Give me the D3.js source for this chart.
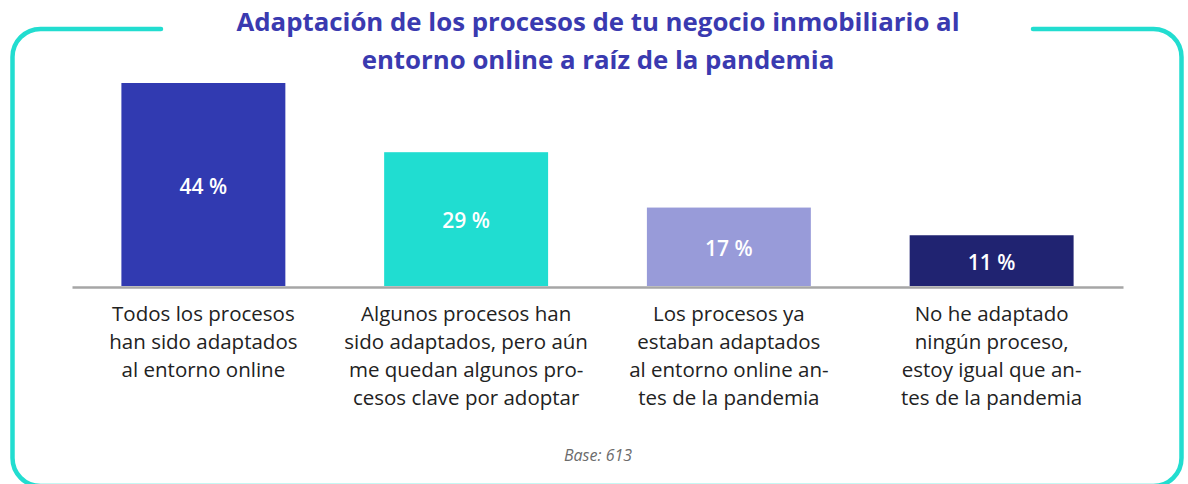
<!DOCTYPE html>
<html>
<head>
<meta charset="utf-8">
<script src="https://cdn.jsdelivr.net/npm/d3@7"></script>
<style>
  body { margin: 0; background: #fff; }
  svg { display: block; }
</style>
</head>
<body>
<script>
var titleLines = [
  'Adaptación de los procesos de tu negocio inmobiliario al',
  'entorno online a raíz de la pandemia'
];
var categories = ['todos', 'algunos', 'yaEstaban', 'ninguno'];
var values = [44, 29, 17, 11];
var labelLines = [
  ['Todos los procesos', 'han sido adaptados', 'al entorno online'],
  ['Algunos procesos han', 'sido adaptados, pero aún', 'me quedan algunos pro-', 'cesos clave por adoptar'],
  ['Los procesos ya', 'estaban adaptados', 'al entorno online an-', 'tes de la pandemia'],
  ['No he adaptado', 'ningún proceso,', 'estoy igual que an-', 'tes de la pandemia']
];
var colors = ['#313ab1', '#20ddd1', '#989bd9', '#202371'];
var baseNote = 'Base: 613';

var width = 1188;
var height = 484;

var svg = d3.select('body').append('svg')
  .attr('width', width)
  .attr('height', height);

// teal frame, open at the top where the title sits
var frame = d3.path();
var fl = 12.5, ft = 29, fr = 1181.5, fb = 486, rad = 28;
frame.moveTo(161, ft);
frame.lineTo(fl + rad, ft);
frame.arcTo(fl, ft, fl, ft + rad, rad);
frame.lineTo(fl, fb - rad);
frame.arcTo(fl, fb, fl + rad, fb, rad);
frame.lineTo(fr - rad, fb);
frame.arcTo(fr, fb, fr, fb - rad, rad);
frame.lineTo(fr, ft + rad);
frame.arcTo(fr, ft, fr - rad, ft, rad);
frame.lineTo(1033, ft);

svg.append('path')
  .attr('d', frame.toString())
  .attr('fill', 'none')
  .attr('stroke', '#22ddd0')
  .attr('stroke-width', 4.5)
  .attr('stroke-linecap', 'round');

svg.append('g')
  .selectAll('text')
  .data(titleLines)
  .enter().append('text')
    .attr('x', 598)
    .attr('y', function(d, i) { return 31 + i * 38; })
    .attr('text-anchor', 'middle')
    .attr('font-family', 'Open Sans, sans-serif')
    .attr('font-weight', 700)
    .attr('font-size', 25.8)
    .attr('fill', '#3a3ab0')
    .text(function(d) { return d; });

var x = d3.scaleBand()
  .domain(categories)
  .range([72, 1123])
  .paddingInner(0.376)
  .paddingOuter(0.188);

var y = d3.scaleLinear()
  .domain([0, 44])
  .range([286, 83]);

var bars = svg.append('g')
  .selectAll('g')
  .data(values)
  .enter().append('g');

bars.append('rect')
  .attr('x', function(d, i) { return x(categories[i]); })
  .attr('y', function(d) { return y(d); })
  .attr('width', x.bandwidth())
  .attr('height', function(d) { return y(0) - y(d); })
  .attr('fill', function(d, i) { return colors[i]; });

bars.append('text')
  .attr('x', function(d, i) { return x(categories[i]) + x.bandwidth() / 2; })
  .attr('y', function(d) { return (y(d) + y(0)) / 2 + 2; })
  .attr('dy', '0.35em')
  .attr('text-anchor', 'middle')
  .attr('font-family', 'Open Sans, sans-serif')
  .attr('font-weight', 600)
  .attr('font-size', 21)
  .attr('fill', '#fff')
  .text(function(d) { return d + ' %'; });

var axis = d3.axisBottom(x).tickSize(0).tickFormat('');
var axisG = svg.append('g')
  .attr('transform', 'translate(0,' + (y(0) + 1) + ')')
  .call(axis);
axisG.select('.domain')
  .attr('stroke', '#a6a6a6')
  .attr('stroke-width', 2.5);

var labels = svg.append('g')
  .selectAll('text')
  .data(labelLines)
  .enter().append('text')
    .attr('x', function(d, i) { return x(categories[i]) + x.bandwidth() / 2; })
    .attr('y', 314)
    .attr('text-anchor', 'middle')
    .attr('font-family', 'Open Sans, sans-serif')
    .attr('font-size', 20.5)
    .attr('fill', '#222');

labels.selectAll('tspan')
  .data(function(d) { return d; })
  .enter().append('tspan')
    .attr('x', function() { return d3.select(this.parentNode).attr('x'); })
    .attr('dy', function(d, i) { return i === 0 ? '0.35em' : 28; })
    .text(function(d) { return d; });

svg.append('text')
  .attr('x', 598)
  .attr('y', 455)
  .attr('dy', '0.35em')
  .attr('text-anchor', 'middle')
  .attr('font-family', 'Open Sans, sans-serif')
  .attr('font-style', 'italic')
  .attr('font-size', 16)
  .attr('fill', '#6b6b6b')
  .text(baseNote);
</script>
</body>
</html>
